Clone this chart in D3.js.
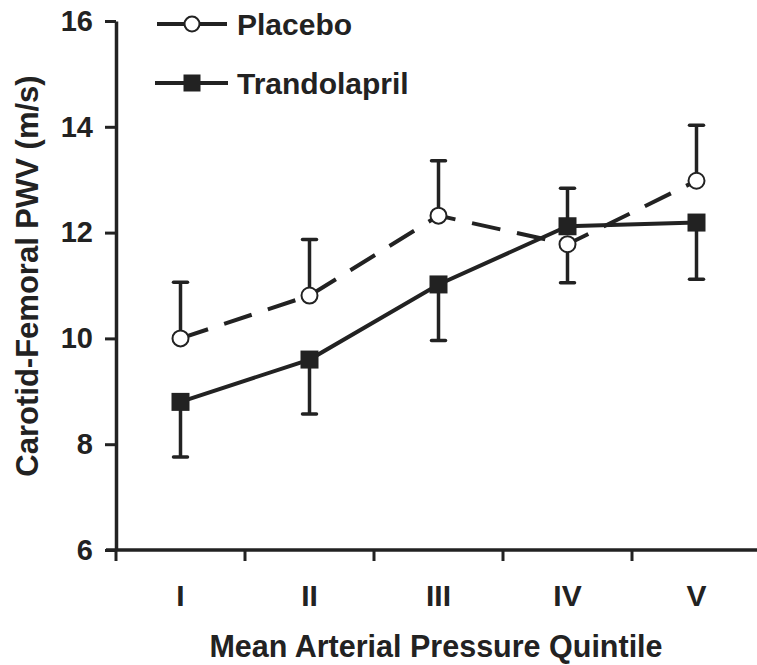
<!DOCTYPE html>
<html>
<head>
<meta charset="utf-8">
<script src="https://cdn.jsdelivr.net/npm/d3@7"></script>
<style>
  body { margin: 0; background: #fff; }
  text { font-family: "Liberation Sans", Arial, sans-serif; font-weight: bold; fill: #222; }
</style>
</head>
<body>
<script>
// data
var quintiles = ["I", "II", "III", "IV", "V"];
var placeboMean = [10.0, 10.81, 12.32, 11.78, 12.98];
var placeboErr = [11.06, 11.87, 13.36, 11.05, 14.03];
var trandoMean = [8.8, 9.6, 11.02, 12.12, 12.19];
var trandoErr = [7.76, 8.57, 9.96, 12.84, 11.12];
var yTicks = [6, 8, 10, 12, 14, 16];

var ink = "#222";

var svg = d3.select("body").append("svg")
  .attr("width", 757)
  .attr("height", 665);

var x = d3.scaleBand().domain(quintiles).range([116, 761]);
var y = d3.scaleLinear().domain([6, 16]).range([550, 21]);
var cx = function (d) { return x(d) + x.bandwidth() / 2; };

// y axis
var yAxis = svg.append("g")
  .attr("transform", "translate(116,0)")
  .call(d3.axisLeft(y).tickValues(yTicks).tickSize(11).tickSizeOuter(0).tickPadding(12));
yAxis.select(".domain").attr("stroke", ink).attr("stroke-width", 3.5);
yAxis.selectAll(".tick line").attr("stroke", ink).attr("stroke-width", 3);
yAxis.selectAll(".tick text").style("font-size", "29px").attr("fill", ink);

// x axis: labels at band centres, ticks at band edges
var xAxis = svg.append("g")
  .attr("transform", "translate(0,550)")
  .call(d3.axisBottom(x).tickSize(0).tickPadding(35));
xAxis.select(".domain").remove();
xAxis.selectAll(".tick text").style("font-size", "30px").attr("fill", ink);

svg.append("line")
  .attr("x1", 106).attr("x2", 757)
  .attr("y1", y(6)).attr("y2", y(6))
  .attr("stroke", ink).attr("stroke-width", 3.5);

svg.selectAll("line.xtick")
  .data(quintiles)
  .enter().append("line")
  .attr("class", "xtick")
  .attr("x1", function (d) { return x(d); })
  .attr("x2", function (d) { return x(d); })
  .attr("y1", y(6)).attr("y2", y(6) + 11)
  .attr("stroke", ink).attr("stroke-width", 3);

// axis titles
svg.append("text")
  .attr("x", 436).attr("y", 657)
  .attr("text-anchor", "middle")
  .style("font-size", "30.5px")
  .text("Mean Arterial Pressure Quintile");

svg.append("text")
  .attr("transform", "translate(38,276) rotate(-90)")
  .attr("text-anchor", "middle")
  .style("font-size", "31px")
  .text("Carotid-Femoral PWV (m/s)");

var line = d3.line()
  .x(function (d) { return cx(d.q); })
  .y(function (d) { return y(d.v); });

function series(means, errs) {
  return quintiles.map(function (q, i) { return { q: q, v: means[i], e: errs[i] }; });
}
var trando = series(trandoMean, trandoErr);
var placebo = series(placeboMean, placeboErr);

// error bars (one-sided)
function errorBars(data, cls) {
  var g = svg.append("g").attr("class", cls);
  g.selectAll("line.stem").data(data).enter().append("line")
    .attr("class", "stem")
    .attr("x1", function (d) { return cx(d.q); })
    .attr("x2", function (d) { return cx(d.q); })
    .attr("y1", function (d) { return y(d.v); })
    .attr("y2", function (d) { return y(d.e); })
    .attr("stroke", ink).attr("stroke-width", 3.5);
  g.selectAll("line.cap").data(data).enter().append("line")
    .attr("class", "cap")
    .attr("x1", function (d) { return cx(d.q) - 7; })
    .attr("x2", function (d) { return cx(d.q) + 7; })
    .attr("y1", function (d) { return y(d.e); })
    .attr("y2", function (d) { return y(d.e); })
    .attr("stroke", ink).attr("stroke-width", 3.5)
    .attr("stroke-linecap", "round");
}

// trandolapril
errorBars(trando, "trando-err");
svg.append("path")
  .datum(trando)
  .attr("d", line)
  .attr("fill", "none")
  .attr("stroke", ink)
  .attr("stroke-width", 4);
svg.selectAll("rect.trando")
  .data(trando)
  .enter().append("rect")
  .attr("class", "trando")
  .attr("x", function (d) { return cx(d.q) - 9; })
  .attr("y", function (d) { return y(d.v) - 9; })
  .attr("width", 18).attr("height", 18)
  .attr("fill", ink);

// placebo
errorBars(placebo, "placebo-err");
svg.append("path")
  .datum(placebo)
  .attr("d", line)
  .attr("fill", "none")
  .attr("stroke", ink)
  .attr("stroke-width", 4)
  .attr("stroke-dasharray", "29,17");
svg.selectAll("circle.placebo")
  .data(placebo)
  .enter().append("circle")
  .attr("class", "placebo")
  .attr("cx", function (d) { return cx(d.q); })
  .attr("cy", function (d) { return y(d.v); })
  .attr("r", 8)
  .attr("fill", "#fff")
  .attr("stroke", ink)
  .attr("stroke-width", 2);

// legend
var legend = svg.append("g");
legend.append("line")
  .attr("x1", 157).attr("x2", 227).attr("y1", 24).attr("y2", 24)
  .attr("stroke", ink).attr("stroke-width", 4);
legend.append("circle")
  .attr("cx", 192).attr("cy", 24).attr("r", 7.5)
  .attr("fill", "#fff").attr("stroke", ink).attr("stroke-width", 2);
legend.append("text")
  .attr("x", 237).attr("y", 35)
  .style("font-size", "30px")
  .text("Placebo");

legend.append("line")
  .attr("x1", 155).attr("x2", 228).attr("y1", 83).attr("y2", 83)
  .attr("stroke", ink).attr("stroke-width", 4);
legend.append("rect")
  .attr("x", 183.5).attr("y", 74.5).attr("width", 17).attr("height", 17)
  .attr("fill", ink);
legend.append("text")
  .attr("x", 237).attr("y", 94)
  .style("font-size", "30px")
  .text("Trandolapril");
</script>
</body>
</html>
